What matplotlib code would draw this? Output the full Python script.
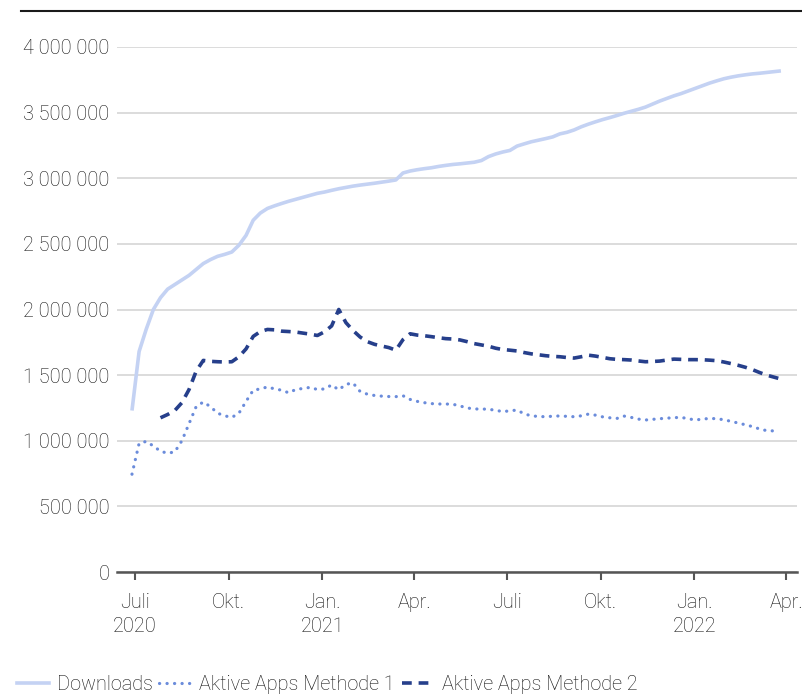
import datetime as dt
import matplotlib
matplotlib.use("Agg")
import matplotlib.pyplot as plt
import matplotlib.dates as mdates
from matplotlib.ticker import FuncFormatter
from matplotlib.lines import Line2D
import numpy as np

# wöchentliche Werte (in Tausend), ab 28.06.2020
start = dt.date(2020, 6, 28)

downloads = [
    1230, 1680, 1850, 2000, 2090, 2155, 2190, 2225, 2260, 2305,
    2350, 2380, 2405, 2420, 2438, 2490, 2565, 2680, 2735, 2770,
    2790, 2808, 2825, 2840, 2855, 2870, 2885, 2895, 2908, 2920,
    2930, 2940, 2948, 2955, 2962, 2970, 2978, 2987, 3040, 3055,
    3065, 3073, 3080, 3090, 3098, 3105, 3110, 3116, 3122, 3135,
    3165, 3185, 3200, 3212, 3245, 3262, 3278, 3290, 3302, 3315,
    3338, 3350, 3368, 3392, 3412, 3430, 3447, 3462, 3478, 3495,
    3510, 3525, 3542, 3565, 3588, 3608, 3628, 3645, 3665, 3685,
    3705, 3725, 3742, 3758, 3770, 3780, 3788, 3795, 3800, 3806,
    3812, 3818,
]

methode1 = [
    745, 980, 995, 960, 920, 905, 915, 1000, 1130, 1260,
    1295, 1260, 1210, 1190, 1178, 1210, 1300, 1385, 1395, 1410,
    1395, 1385, 1365, 1392, 1398, 1407, 1390, 1395, 1425, 1388,
    1430, 1440, 1375, 1355, 1345, 1340, 1337, 1336, 1343, 1315,
    1300, 1290, 1283, 1280, 1280, 1278, 1265, 1250, 1242, 1242,
    1240, 1232, 1222, 1228, 1234, 1205, 1190, 1185, 1183, 1187,
    1189, 1186, 1183, 1190, 1203, 1195, 1182, 1175, 1170, 1188,
    1178, 1165, 1158, 1163, 1168, 1172, 1176, 1178, 1168, 1158,
    1165, 1170, 1168, 1160, 1148, 1135, 1122, 1108, 1090, 1077,
    1075, np.nan,
]

methode2 = [
    np.nan, np.nan, np.nan, np.nan, 1175, 1200, 1230, 1290, 1390, 1530,
    1612, 1605, 1602, 1600, 1602, 1640, 1700, 1795, 1832, 1848,
    1845, 1835, 1832, 1828, 1820, 1812, 1802, 1830, 1875, 2000,
    1900, 1840, 1790, 1755, 1735, 1722, 1710, 1690, 1770, 1815,
    1805, 1800, 1793, 1785, 1778, 1775, 1768, 1755, 1740, 1730,
    1720, 1705, 1695, 1690, 1684, 1672, 1662, 1655, 1648, 1643,
    1640, 1634, 1630, 1640, 1652, 1645, 1635, 1625, 1620, 1618,
    1615, 1608, 1602, 1604, 1607, 1615, 1622, 1620, 1618, 1618,
    1617, 1614, 1610, 1600, 1588, 1575, 1560, 1542, 1520, 1500,
    1485, 1470,
]

tick_dates = [dt.date(2020, 7, 1), dt.date(2020, 10, 1), dt.date(2021, 1, 1),
              dt.date(2021, 4, 1), dt.date(2021, 7, 1), dt.date(2021, 10, 1),
              dt.date(2022, 1, 1), dt.date(2022, 4, 1)]
tick_labels = ["Juli\n2020", "Okt.", "Jan.\n2021", "Apr.", "Juli", "Okt.",
               "Jan.\n2022", "Apr."]

c_down = "#c4d2f3"
c_m1 = "#6b8cdb"
c_m2 = "#263f8b"
txt = "#111111"

plt.rcParams["font.family"] = ["Roboto", "DejaVu Sans"]
plt.rcParams["font.weight"] = "light"
plt.rcParams["font.size"] = 14.3

dates = [start + dt.timedelta(weeks=i) for i in range(len(downloads))]
d = np.array(downloads) * 1000
m1 = np.array(methode1) * 1000
m2 = np.array(methode2) * 1000

fig = plt.figure(figsize=(8.03, 6.95), dpi=100)
ax = fig.add_axes([117 / 803, 1 - 572 / 695, 680 / 803, 525 / 695])

ax.plot(dates, d, color=c_down, lw=2.6, solid_capstyle="butt", label="Downloads")
ax.plot(dates, m1, color=c_m1, lw=2.3, linestyle=(0, (0.05, 2.3)),
        dash_capstyle="round", label="Aktive Apps Methode 1")
ax.plot(dates, m2, color=c_m2, lw=2.6, linestyle=(0, (2.7, 1.9)),
        label="Aktive Apps Methode 2")

ref = mdates.date2num(dt.date(2020, 7, 1))
ax.set_xlim(ref - 17.7, ref + 649.8)
ax.set_ylim(0, 4_000_000)
ax.set_yticks(np.arange(0, 4_000_001, 500_000))
ax.yaxis.set_major_formatter(FuncFormatter(lambda v, p: f"{int(v):,}".replace(",", " ")))
ax.set_xticks([mdates.date2num(t) for t in tick_dates])
ax.set_xticklabels(tick_labels, linespacing=1.35)

ax.grid(axis="y", color="#d9d9d9", lw=1.3)
ax.set_axisbelow(True)
for s in ["top", "right", "left"]:
    ax.spines[s].set_visible(False)
ax.spines["bottom"].set_color("#555555")
ax.spines["bottom"].set_linewidth(1.8)
ax.spines["bottom"].set_zorder(5)
ax.tick_params(axis="y", length=0, pad=5.5, labelcolor=txt)
ax.tick_params(axis="x", length=6, width=1.5, color="#555555", pad=9, labelcolor=txt)

fig.add_artist(Line2D([21 / 803, 1], [1 - 11 / 695] * 2, color="#1a1a1a", lw=1.5))

handles = [
    Line2D([], [], color=c_down, lw=2.6),
    Line2D([], [], color=c_m1, lw=2.3, linestyle=(0, (0.05, 2.3)), dash_capstyle="round"),
    Line2D([], [], color=c_m2, lw=2.6, linestyle=(0, (2.7, 1.9))),
]
fig.legend(handles, ["Downloads", "Aktive Apps Methode 1", "Aktive Apps Methode 2"],
           loc="lower left", bbox_to_anchor=(-1 / 803, -0.024), ncol=3, frameon=False,
           handlelength=1.6, handletextpad=0.4, columnspacing=0.35, labelcolor=txt)

fig.savefig("out.png", dpi=100)
